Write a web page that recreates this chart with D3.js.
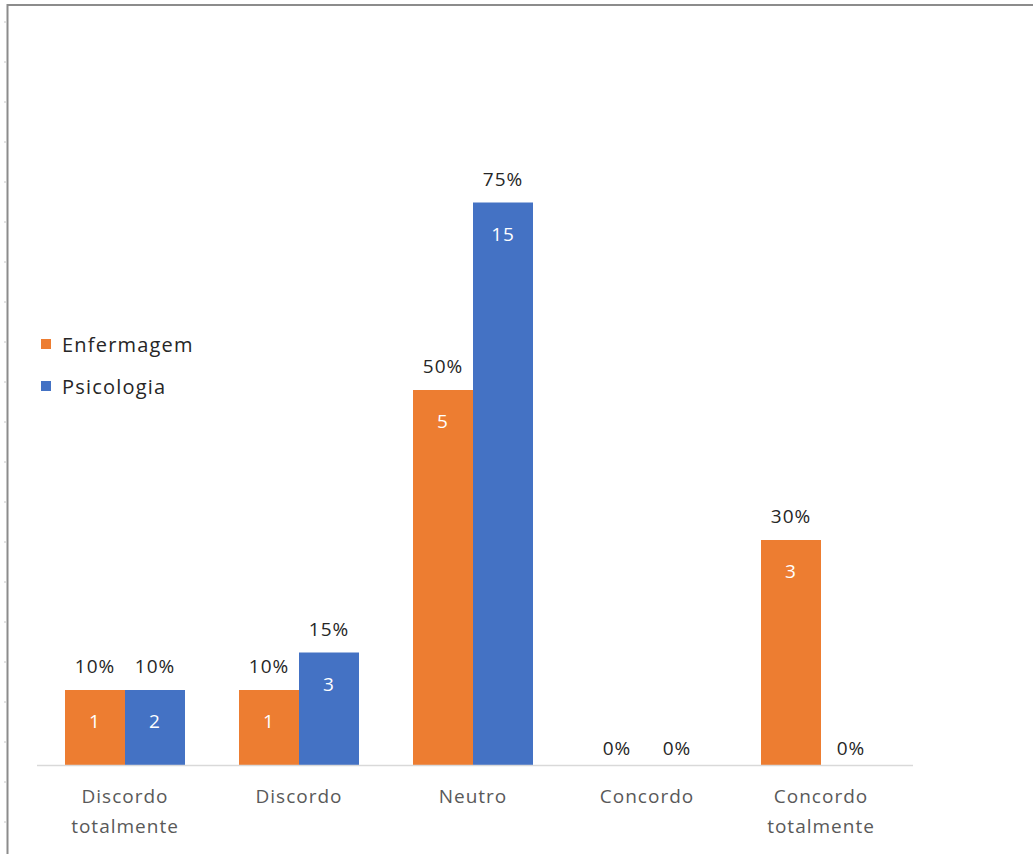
<!DOCTYPE html>
<html><head><meta charset="utf-8">
<script src="https://cdn.jsdelivr.net/npm/d3@7"></script>
<style>body{margin:0;background:#fff}svg{display:block}</style>
</head><body><svg id="c" width="1033" height="854"></svg>
<script>
const categories = [["Discordo","totalmente"],["Discordo"],["Neutro"],["Concordo"],["Concordo","totalmente"]];
const series = ["Enfermagem","Psicologia"];
const colors = ["#ED7D31","#4472C4"];
const pctEnf = [10,10,50,0,30];
const pctPsi = [10,15,75,0,0];
const cntEnf = [1,1,5,0,3];
const cntPsi = [2,3,15,0,0];

const svg = d3.select("#c");
const font = "'Open Sans', sans-serif";
// frame
svg.append("rect").attr("x",7.5).attr("y",5).attr("width",1040).attr("height",900)
  .attr("fill","none").attr("stroke","#8c8c8c").attr("stroke-width",2);
svg.append("g").selectAll("line").data(d3.range(22,854,40)).join("line")
  .attr("x1",4).attr("x2",7).attr("y1",d=>d).attr("y2",d=>d).attr("stroke","#c8c8c8");

const x0 = d3.scaleBand().domain(d3.range(categories.length)).range([38,908]);
const x1 = d3.scaleBand().domain([0,1]).range([0,120]);
const y = d3.scaleLinear().domain([0,100]).range([765,15]);
const off = (x0.bandwidth()-120)/2;

const data = categories.map((c,i)=>[
  {s:0,p:pctEnf[i],n:cntEnf[i],i},{s:1,p:pctPsi[i],n:cntPsi[i],i}]).flat();

const g = svg.append("g");
g.selectAll("rect.b").data(data.filter(d=>d.p>0)).join("rect").attr("class","b")
  .attr("x",d=>x0(d.i)+off+x1(d.s)).attr("width",x1.bandwidth())
  .attr("y",d=>y(d.p)).attr("height",d=>y(0)-y(d.p)).attr("fill",d=>colors[d.s]);

// axis line
svg.append("line").attr("x1",37).attr("x2",913).attr("y1",765.5).attr("y2",765.5)
  .attr("stroke","#d9d9d9").attr("stroke-width",1.5);

const cx = d=>x0(d.i)+off+x1(d.s)+x1.bandwidth()/2;
g.selectAll("text.p").data(data).join("text").attr("class","p")
  .attr("x",cx).attr("y",d=>d.p>0 ? y(d.p)-17 : y(0)-10)
  .attr("text-anchor","middle").attr("font-family",font).attr("font-size",19)
  .attr("letter-spacing",1).attr("fill","#262626")
  .text(d=>d.p+"%");
g.selectAll("text.n").data(data.filter(d=>d.n>0)).join("text").attr("class","n")
  .attr("x",cx).attr("y",d=>y(d.p)+38)
  .attr("text-anchor","middle").attr("font-family",font).attr("font-size",19)
  .attr("letter-spacing",1).attr("fill","#fff")
  .text(d=>d.n);

const lab = svg.append("g").selectAll("text").data(categories).join("text")
  .attr("x",(d,i)=>x0(i)+x0.bandwidth()/2).attr("y",803)
  .attr("text-anchor","middle").attr("font-family",font).attr("font-size",19)
  .attr("letter-spacing",1).attr("fill","#595959");
lab.selectAll("tspan").data(d=>d).join("tspan").attr("x",function(){return this.parentNode.getAttribute("x");})
  .attr("dy",(d,i)=>i?30:0).text(d=>d);

const leg = svg.append("g").selectAll("g").data(series).join("g")
  .attr("transform",(d,i)=>`translate(41,${339+i*42})`);
leg.append("rect").attr("width",10).attr("height",10).attr("fill",(d,i)=>colors[i]);
leg.append("text").attr("x",21).attr("y",13).attr("font-family",font).attr("font-size",20)
  .attr("letter-spacing",1.2).attr("fill","#262626").text(d=>d);
</script></body></html>
